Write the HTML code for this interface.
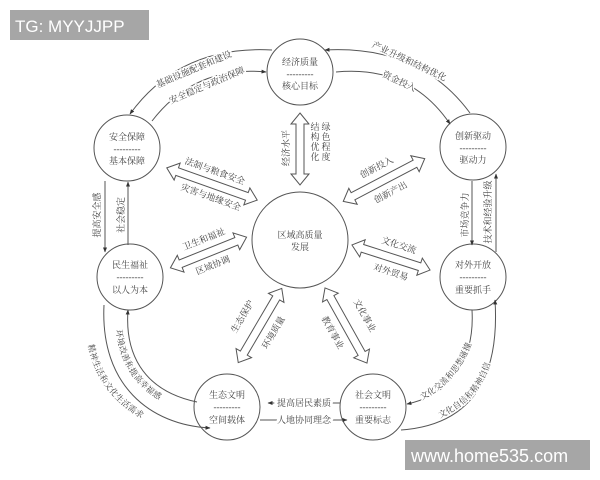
<!DOCTYPE html>
<html><head><meta charset="utf-8"><style>
html,body{margin:0;padding:0;background:#fff;}
svg{display:block;font-family:"Liberation Serif","Noto Serif CJK SC","Noto Sans CJK SC",serif;}
.t{font-size:9px;fill:#444;}
.t text{stroke:#fff;stroke-width:3px;paint-order:stroke;stroke-linejoin:round;}
.c{font-size:9px;fill:#444;text-anchor:middle;}
</style></head><body>
<svg width="600" height="480" viewBox="0 0 600 480" xmlns="http://www.w3.org/2000/svg">
<defs>
<marker id="m" viewBox="0 0 10 10" refX="9" refY="5" markerWidth="5" markerHeight="5" orient="auto"><path d="M0,1 L10,5 L0,9 z" fill="#333"/></marker>
</defs>
<rect width="600" height="480" fill="#fff"/>
<g fill="none" stroke="#555" stroke-width="1">
<circle cx="300" cy="72" r="33"/>
<circle cx="127" cy="148" r="33"/>
<circle cx="473" cy="147" r="33"/>
<circle cx="300" cy="240" r="48"/>
<circle cx="130" cy="277" r="33"/>
<circle cx="473" cy="277" r="33"/>
<circle cx="227" cy="407" r="33"/>
<circle cx="373" cy="407" r="33"/>
<path d="M272,50 Q180,45 130,114" marker-end="url(#m)"/>
<path d="M152,121 Q195,65 266,72" marker-end="url(#m)"/>
<path d="M470,113 Q420,45 325,50" marker-end="url(#m)"/>
<path d="M336,72 Q410,65 450,124" marker-end="url(#m)"/>
<path d="M105,181 L105,252" marker-end="url(#m)"/>
<path d="M128,245 L128,182" marker-end="url(#m)"/>
<path d="M472,181 L472,245" marker-end="url(#m)"/>
<path d="M496,252 L496,174" marker-end="url(#m)"/>
<path d="M104,305 C100,385 150,425 210,428" marker-end="url(#m)"/>
<path d="M197,402 C140,390 125,350 128,310" marker-end="url(#m)"/>
<path d="M472,310 C475,360 450,395 407,404" marker-end="url(#m)"/>
<path d="M401,430 C470,425 500,380 495,300" marker-end="url(#m)"/>
<path d="M340,403 L268,403" marker-end="url(#m)"/>
<path d="M260,420 L347,420" marker-end="url(#m)"/>
</g>
<g fill="#fff" stroke="#555" stroke-width="1">
<polygon transform="translate(300,149) rotate(90)" points="-36,0 -25,-9 -25,-4 25,-4 25,-9 36,0 25,9 25,4 -25,4 -25,9"/>
<polygon transform="translate(212,184) rotate(19.6)" points="-48,0 -37,-9 -37,-4 37,-4 37,-9 48,0 37,9 37,4 -37,4 -37,9"/>
<polygon transform="translate(384,180) rotate(-27.7)" points="-46,0 -35,-9 -35,-4 35,-4 35,-9 46,0 35,9 35,4 -35,4 -35,9"/>
<polygon transform="translate(208.5,252.5) rotate(-21.9)" points="-41,0 -30,-9 -30,-4 30,-4 30,-9 41,0 30,9 30,4 -30,4 -30,9"/>
<polygon transform="translate(391,257.5) rotate(17.8)" points="-41,0 -30,-9 -30,-4 30,-4 30,-9 41,0 30,9 30,4 -30,4 -30,9"/>
<polygon transform="translate(260,325.5) rotate(-59.6)" points="-43,0 -32,-9 -32,-4 32,-4 32,-9 43,0 32,9 32,4 -32,4 -32,9"/>
<polygon transform="translate(346,325.5) rotate(60.8)" points="-43,0 -32,-9 -32,-4 32,-4 32,-9 43,0 32,9 32,4 -32,4 -32,9"/>
</g>
<g class="c">
<text x="300" y="65">经济质量</text><text x="300" y="77">---------</text><text x="300" y="89">核心目标</text>
<text x="127" y="140">安全保障</text><text x="127" y="152">---------</text><text x="127" y="164">基本保障</text>
<text x="473" y="139">创新驱动</text><text x="473" y="151">---------</text><text x="473" y="163">驱动力</text>
<text x="300" y="238">区域高质量</text><text x="300" y="250">发展</text>
<text x="130" y="268">民生福祉</text><text x="130" y="280">---------</text><text x="130" y="293">以人为本</text>
<text x="473" y="268">对外开放</text><text x="473" y="280">---------</text><text x="473" y="293">重要抓手</text>
<text x="227" y="398">生态文明</text><text x="227" y="410">---------</text><text x="227" y="423">空间载体</text>
<text x="373" y="398">社会文明</text><text x="373" y="410">---------</text><text x="373" y="423">重要标志</text>
</g>
<path id="q5" d="M88,345 Q100,405 166,430" fill="none" stroke="none"/>
<path id="q6" d="M116,330 Q122,388 180,410" fill="none" stroke="none"/>
<path id="q7" d="M422,400 Q465,378 476,328" fill="none" stroke="none"/>
<path id="q8" d="M440,418 Q486,398 494,348" fill="none" stroke="none"/>
<g class="t">
<text x="195" y="72" transform="rotate(-23 195 72)" text-anchor="middle">基础设施配套和建设</text>
<text x="208" y="88" transform="rotate(-23 208 88)" text-anchor="middle">安全稳定与政治保障</text>
<text x="408" y="64" transform="rotate(25 408 64)" text-anchor="middle">产业升级和结构优化</text>
<text x="398" y="84" transform="rotate(25 398 84)" text-anchor="middle">资金投入</text>
<text x="100" y="215" transform="rotate(-90 100 215)" text-anchor="middle">提高安全感</text>
<text x="124" y="215" transform="rotate(-90 124 215)" text-anchor="middle">社会稳定</text>
<text x="468" y="215" transform="rotate(-90 468 215)" text-anchor="middle">市场竞争力</text>
<text x="491" y="212" transform="rotate(-90 491 212)" text-anchor="middle">技术和经验升级</text>
<text style="font-size:8.5px"><textPath href="#q5">精神生活和文化生活需求</textPath></text>
<text style="font-size:8.5px"><textPath href="#q6">环境改善和提高幸福感</textPath></text>
<text style="font-size:8.5px"><textPath href="#q7">文化交流和思想碰撞</textPath></text>
<text style="font-size:8.5px"><textPath href="#q8">文化自信和精神自信</textPath></text>
<text x="304" y="406" text-anchor="middle" style="stroke-width:6px">提高居民素质</text>
<text x="304" y="423" text-anchor="middle" style="stroke-width:6px">人地协同理念</text>
<text x="289" y="148" transform="rotate(-90 289 148)" text-anchor="middle">经济水平</text>
<text x="315" y="130" text-anchor="middle">结<tspan x="315" dy="10">构</tspan><tspan x="315" dy="10">优</tspan><tspan x="315" dy="10">化</tspan></text>
<text x="326" y="130" text-anchor="middle">绿<tspan x="326" dy="10">色</tspan><tspan x="326" dy="10">程</tspan><tspan x="326" dy="10">度</tspan></text>
<text x="214" y="174" transform="rotate(19.6 214 174)" text-anchor="middle">法制与粮食安全</text>
<text x="210" y="200" transform="rotate(19.6 210 200)" text-anchor="middle">灾害与地缘安全</text>
<text x="378" y="170" transform="rotate(-27.7 378 170)" text-anchor="middle">创新投入</text>
<text x="392" y="195" transform="rotate(-27.7 392 195)" text-anchor="middle">创新产出</text>
<text x="205" y="242" transform="rotate(-21.9 205 242)" text-anchor="middle">卫生和福祉</text>
<text x="214" y="268" transform="rotate(-21.9 214 268)" text-anchor="middle">区域协调</text>
<text x="398" y="248" transform="rotate(17.8 398 248)" text-anchor="middle">文化交流</text>
<text x="390" y="275" transform="rotate(17.8 390 275)" text-anchor="middle">对外贸易</text>
<text x="245" y="318" transform="rotate(-59.6 245 318)" text-anchor="middle">生态保护</text>
<text x="276" y="334" transform="rotate(-59.6 276 334)" text-anchor="middle">环境质量</text>
<text x="330" y="334" transform="rotate(60.8 330 334)" text-anchor="middle">教育事业</text>
<text x="362" y="317" transform="rotate(60.8 362 317)" text-anchor="middle">文化事业</text>
</g>
<rect x="10" y="10" width="139" height="30" fill="#a6a6a6"/>
<text x="15" y="32" style="font-family:'Liberation Sans',sans-serif;font-size:17px;fill:#fff">TG: MYYJJPP</text>
<rect x="405" y="440" width="185" height="30" fill="#a6a6a6"/>
<text x="411" y="462" style="font-family:'Liberation Sans',sans-serif;font-size:18px;fill:#fff">www.home535.com</text>
</svg>
</body></html>
